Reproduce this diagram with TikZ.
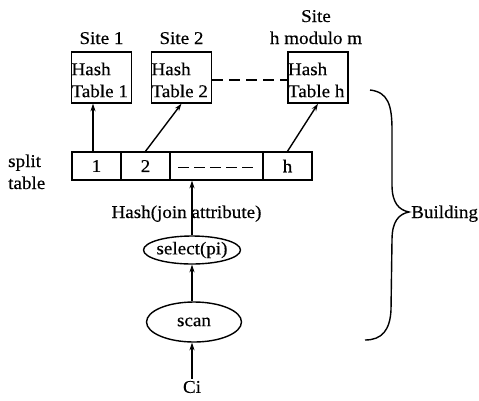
\documentclass[tikz,border=0pt]{standalone}
\usepackage{fontspec}
\setmainfont{Liberation Serif}[FakeStretch=1.06,FakeBold=0.4]
\usetikzlibrary{shapes.geometric,arrows.meta}
\begin{document}
\begin{tikzpicture}[x=1pt,y=-1pt,
  font=\fontsize{18}{22}\selectfont,
  ln/.style={line width=1.4pt},
  htbox/.style={draw,ln,minimum width=60pt,minimum height=51pt,inner sep=0pt},
  httext/.style={align=left,inner xsep=0.5pt,inner ysep=0pt,anchor=west},
  cell/.style={draw,ln,minimum height=28pt,inner sep=0pt},
  oval/.style={draw,ln,ellipse,inner sep=0pt},
  lbl/.style={inner sep=0pt},
  arr/.style={ln,-{Stealth[length=7.5pt,width=5pt]}},
  dsh/.style={ln,dash pattern=on 11pt off 5pt},
]
\useasboundingbox (0,0) rectangle (479,400);

% site labels
\node[lbl,anchor=base] (s1) at (101.5,44) {Site 1};
\node[lbl,anchor=base] (s2) at (181.5,44) {Site 2};
\node[lbl,anchor=base] (sh1) at (316,22) {Site};
\node[lbl,anchor=base] (sh2) at (316,44) {h modulo m};

% hash table boxes
\node[htbox] (t1) at (101.5,77.5) {};
\node[httext] (t1l) at ([yshift=-2.5pt]t1.west) {Hash\\Table 1};
\node[htbox] (t2) at (181.5,77.5) {};
\node[httext] (t2l) at ([yshift=-2.5pt]t2.west) {Hash\\Table 2};
\node[htbox] (th) at (318,77.5) {};
\node[httext] (thl) at ([yshift=-2.5pt]th.west) {Hash\\Table h};
\draw[ln,dash pattern=on 11pt off 6pt] ([yshift=-2.5pt]t2.east) -- ([yshift=-2.5pt]th.west);

% split table
\node[lbl,anchor=base west] (sp1) at (8,167) {split};
\node[lbl,anchor=base west] (sp2) at (8,189) {table};
\node[cell,minimum width=49pt] (c1) at (96.5,166) {1};
\node[cell,minimum width=49pt] (c2) at (145.5,166) {2};
\node[cell,minimum width=93pt] (cD) at (216.5,166) {};
\node[cell,minimum width=49pt] (cH) at (287.5,166) {h};
\draw[dsh] ([xshift=9pt,yshift=-1.5pt]cD.west) -- ([xshift=-7pt,yshift=-1.5pt]cD.east);

\draw[arr] ([xshift=-3.5pt]c1.north) -- ([xshift=-3.5pt]c1.north |- t1.south);
\draw[arr] (c2.north) -- (t2.south);
\draw[arr] (cH.north) -- (th.south);

% pipeline
\node[lbl,anchor=base] (hj) at (186.5,218) {Hash(join attribute)};
\node[oval,minimum width=97pt,minimum height=28pt] (sel) at (192,250) {};
\node[lbl] (selt) at (sel.center) {select(pi)};
\node[oval,minimum width=95pt,minimum height=40pt] (scan) at (194,322) {};
\node[lbl] (scant) at (scan.center) {scan};
\node[lbl,inner sep=2pt] (ci) at (192,387) {Ci};

\draw[arr] (sel.north) -- (sel.north |- cD.south);
\draw[arr] (scan.north -| sel.south) -- (sel.south);
\draw[arr] (ci.north) -- (ci.north |- scan.south);

% brace
\coordinate (bt) at (370,90);
\coordinate (bb) at (365,340);
\draw[ln] (bt) .. controls (388,92) and (392,105) .. (392,130) -- (392,185)
  .. controls (392,203) and (399,210) .. (409,212)
  .. controls (399,214) and (392,221) .. (392,240) -- (391,310)
  .. controls (390,330) and (382,340) .. (bb);
\node[lbl,anchor=base west] (bld) at (411,218) {Building};
\end{tikzpicture}
\end{document}
